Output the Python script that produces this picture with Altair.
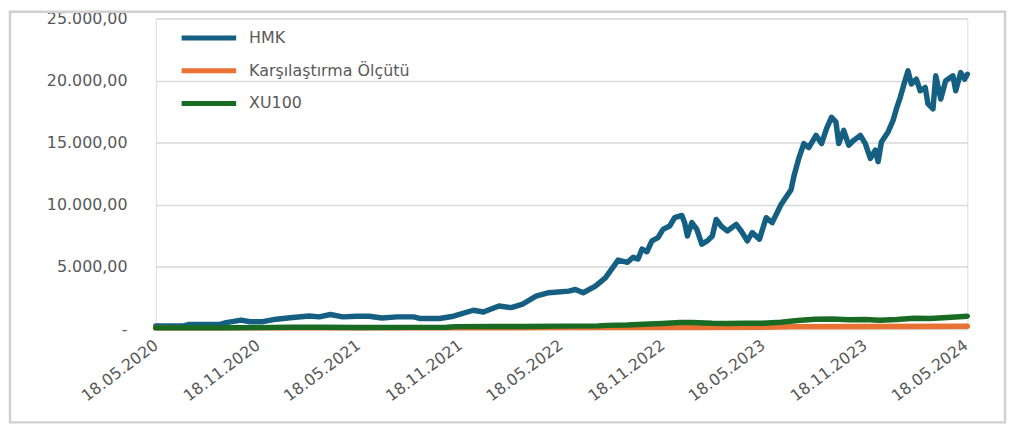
import altair as alt
import pandas as pd

series_names = ["HMK", "Karşılaştırma Ölçütü", "XU100"]
series_colors = ["#156082", "#E97132", "#196B24"]

hmk_dates = [
    "2020-05-18", "2020-07-07", "2020-07-16", "2020-09-11", "2020-09-22", "2020-10-19",
    "2020-11-04", "2020-11-27", "2020-12-21", "2021-01-20", "2021-02-19", "2021-03-09",
    "2021-03-29", "2021-04-20", "2021-05-16", "2021-06-07", "2021-06-30", "2021-07-27",
    "2021-08-26", "2021-09-06", "2021-10-12", "2021-11-06", "2021-12-12", "2021-12-30",
    "2022-01-27", "2022-02-18", "2022-03-11", "2022-04-04", "2022-04-27", "2022-06-02",
    "2022-06-14", "2022-06-28", "2022-07-20", "2022-08-07", "2022-08-30", "2022-09-16",
    "2022-09-26", "2022-10-05", "2022-10-12", "2022-10-21", "2022-10-30", "2022-11-10",
    "2022-11-19", "2022-12-01", "2022-12-10", "2022-12-23", "2022-12-28", "2023-01-02",
    "2023-01-10", "2023-01-19", "2023-01-28", "2023-02-07", "2023-02-16", "2023-02-23",
    "2023-03-04", "2023-03-15", "2023-03-31", "2023-04-09", "2023-04-20", "2023-04-29",
    "2023-05-12", "2023-05-24", "2023-06-04", "2023-06-20", "2023-07-08", "2023-07-13",
    "2023-07-22", "2023-07-31", "2023-08-09", "2023-08-22", "2023-09-01", "2023-09-10",
    "2023-09-19", "2023-09-27", "2023-10-02", "2023-10-11", "2023-10-20", "2023-10-29",
    "2023-11-10", "2023-11-19", "2023-11-28", "2023-12-07", "2023-12-12", "2023-12-18",
    "2023-12-30", "2024-01-08", "2024-01-14", "2024-01-21", "2024-01-26", "2024-02-04",
    "2024-02-10", "2024-02-19", "2024-02-26", "2024-03-06", "2024-03-11", "2024-03-20",
    "2024-03-25", "2024-04-03", "2024-04-12", "2024-04-25", "2024-04-30", "2024-05-09",
    "2024-05-16", "2024-05-21",
]
hmk_values = [
    250, 260, 370, 380, 520, 720,
    590, 600, 800, 930, 1060, 985,
    1180, 985, 1040, 1040, 900, 985,
    985, 860, 860, 1040, 1520, 1380,
    1860, 1730, 2020, 2660, 2930, 3060,
    3190, 2930, 3460, 4120, 5560, 5380,
    5780, 5640, 6440, 6230, 7100, 7370,
    8030, 8300, 8970, 9150, 8570, 7500,
    8570, 8030, 6840, 7100, 7500, 8830,
    8300, 7900, 8430, 7900, 7100, 7770,
    7240, 8970, 8570, 10030, 11220, 12280,
    13750, 14940, 14620, 15600, 14940, 16140,
    17060, 16660, 14940, 16000, 14810, 15200,
    15600, 14940, 13750, 14410, 13480, 15070,
    15870, 16800, 17730, 18660, 19460, 20790,
    19730, 20120, 19190, 19460, 18130, 17730,
    20390, 18530, 19990, 20390, 19190, 20650,
    20120, 20520,
]

bench_dates = [
    "2020-05-18", "2021-05-18", "2021-11-18", "2022-05-18", "2022-11-18",
    "2023-05-18", "2023-07-10", "2023-11-18", "2024-05-21",
]
bench_values = [100, 105, 110, 120, 130, 140, 200, 215, 225]

xu_dates = [
    "2020-05-18", "2020-07-15", "2020-09-15", "2020-11-18", "2021-01-15", "2021-03-15",
    "2021-05-18", "2021-08-18", "2021-10-25", "2021-11-10", "2022-01-15", "2022-03-15",
    "2022-05-18", "2022-07-25", "2022-08-10", "2022-09-15", "2022-10-15", "2022-11-18",
    "2022-12-20", "2023-01-10", "2023-02-15", "2023-03-15", "2023-04-15", "2023-05-18",
    "2023-06-20", "2023-07-20", "2023-08-20", "2023-09-20", "2023-10-20", "2023-11-18",
    "2023-12-15", "2024-01-15", "2024-02-15", "2024-03-15", "2024-04-15", "2024-05-21",
]
xu_values = [
    100, 110, 108, 120, 145, 150,
    135, 140, 150, 200, 210, 215,
    240, 260, 300, 330, 400, 460,
    530, 540, 470, 450, 480, 470,
    560, 700, 800, 810, 760, 780,
    720, 770, 870, 860, 940, 1040,
]

tick_dates = [
    (2020, 5), (2020, 11), (2021, 5), (2021, 11), (2022, 5),
    (2022, 11), (2023, 5), (2023, 11), (2024, 5),
]
y_ticks = [0, 5000, 10000, 15000, 20000, 25000]

rows = []
for d, v in zip(hmk_dates, hmk_values):
    rows.append({"date": d, "value": v, "series": series_names[0]})
for d, v in zip(bench_dates, bench_values):
    rows.append({"date": d, "value": v, "series": series_names[1]})
for d, v in zip(xu_dates, xu_values):
    rows.append({"date": d, "value": v, "series": series_names[2]})
df = pd.DataFrame(rows)

FONT = "DejaVu Sans"
TXT = "#595959"
GRID = "#D9D9D9"

legend = alt.Legend(
    title=None, orient="none", legendX=37, legendY=3,
    symbolType="M-2,0H2", symbolSize=756, symbolStrokeWidth=5,
    labelFontSize=16, labelColor=TXT, labelFont=FONT, labelOffset=24,
    labelLimit=400, rowPadding=6, padding=0,
)

color = alt.Color(
    "series:N",
    scale=alt.Scale(domain=series_names, range=series_colors),
    legend=legend,
)

x_enc = alt.X(
    "date:T",
    scale=alt.Scale(type="utc", domain=[
        alt.DateTime(year=2020, month=5, date=18, utc=True),
        alt.DateTime(year=2024, month=5, date=21, utc=True),
    ]),
    axis=alt.Axis(
        title=None,
        values=[alt.DateTime(year=y, month=m, date=18, utc=True) for y, m in tick_dates],
        labelExpr="utcFormat(datum.value, '%d.%m.%Y')",
        labelAngle=323, labelAlign="right", labelBaseline="middle",
        labelPadding=14, labelFontSize=16, labelColor=TXT, labelFont=FONT,
        ticks=False, domain=False, grid=False, labelOverlap=False, labelFlush=False,
    ),
)
y_enc = alt.Y(
    "value:Q",
    scale=alt.Scale(domain=[0, 25000], nice=False),
    axis=alt.Axis(
        title=None, values=y_ticks,
        labelExpr="datum.value == 0 ? '-\u00a0\u00a0\u00a0' : replace(replace(replace(format(datum.value, ',.2f'), ',', ' '), '.', ','), ' ', '.')",
        labelPadding=29, labelFontSize=16, labelColor=TXT, labelFont=FONT,
        ticks=False, domain=False, grid=True, gridColor=GRID, gridWidth=1.5,
    ),
)

base = alt.Chart(df)
layers = []
for name in series_names:
    layers.append(
        base.transform_filter(alt.datum.series == name)
        .mark_line(strokeWidth=5.5, strokeJoin="round", strokeCap="round")
        .encode(x=x_enc, y=y_enc, color=color)
    )

frame = alt.Chart(pd.DataFrame({"k": [0]})).mark_rect(
    fill="transparent", stroke="#D0D0D0", strokeWidth=2.5
).encode(
    x=alt.value(-147), x2=alt.value(856), y=alt.value(-7), y2=alt.value(407)
)

chart = alt.layer(frame, *layers).properties(
    width=818, height=313,
    autosize=alt.AutoSizeParams(type="none"),
    padding={"left": 149, "top": 9, "right": 42, "bottom": 100},
).configure_view(stroke=None).configure(background="white")

chart.save("out.html", embed_options={"renderer": "svg", "actions": False})
